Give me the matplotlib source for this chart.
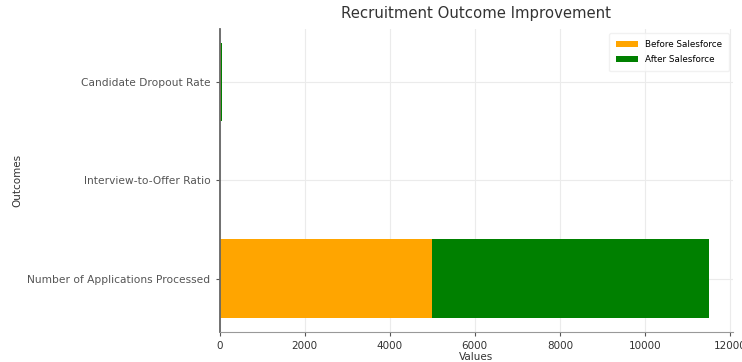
import matplotlib
matplotlib.use("Agg")
import matplotlib.pyplot as plt
import numpy as np

categories = ["Number of Applications Processed", "Interview-to-Offer Ratio", "Candidate Dropout Rate"]
before_values = [5000, 0.25, 30]
after_values = [6500, 0.4, 20]
x_ticks = [0, 2000, 4000, 6000, 8000, 10000, 12000]

fig = plt.figure(figsize=(7.42, 3.62), dpi=100)
ax = fig.add_axes([0.296, 0.083, 0.692, 0.837])

y = np.arange(len(categories))
ax.barh(y, before_values, height=0.8, color="orange", label="Before Salesforce", zorder=2)
ax.barh(y, after_values, height=0.8, left=before_values, color="green", label="After Salesforce", zorder=2)

ax.set_yticks(y)
ax.set_yticklabels(categories, fontsize=7.7, color="#333333")
ax.set_xticks(x_ticks)
ax.tick_params(axis="x", labelsize=7.5, colors="#555555", length=3)
ax.tick_params(axis="y", colors="#555555", length=3)
for lbl in ax.get_xticklabels():
    lbl.set_color("#333333")

ax.grid(True, color="#ebebeb", linewidth=0.8, zorder=0)
ax.set_axisbelow(True)
for s in ["top", "right"]:
    ax.spines[s].set_visible(False)
ax.spines["left"].set_color("#666666")
ax.spines["left"].set_linewidth(1.3)
ax.spines["bottom"].set_color("#999999")

ax.set_title("Recruitment Outcome Improvement", fontsize=10.7, color="#333333", pad=8)
ax.set_xlabel("Values", fontsize=7.5, color="#333333", labelpad=1)
ax.set_ylabel("Outcomes", fontsize=7.5, color="#333333")

ax.legend(loc="upper right", fontsize=6.3, frameon=True, edgecolor="#eeeeee",
          handlelength=2.5, borderpad=0.8, labelspacing=0.7)

fig.savefig("out.png", dpi=100)
